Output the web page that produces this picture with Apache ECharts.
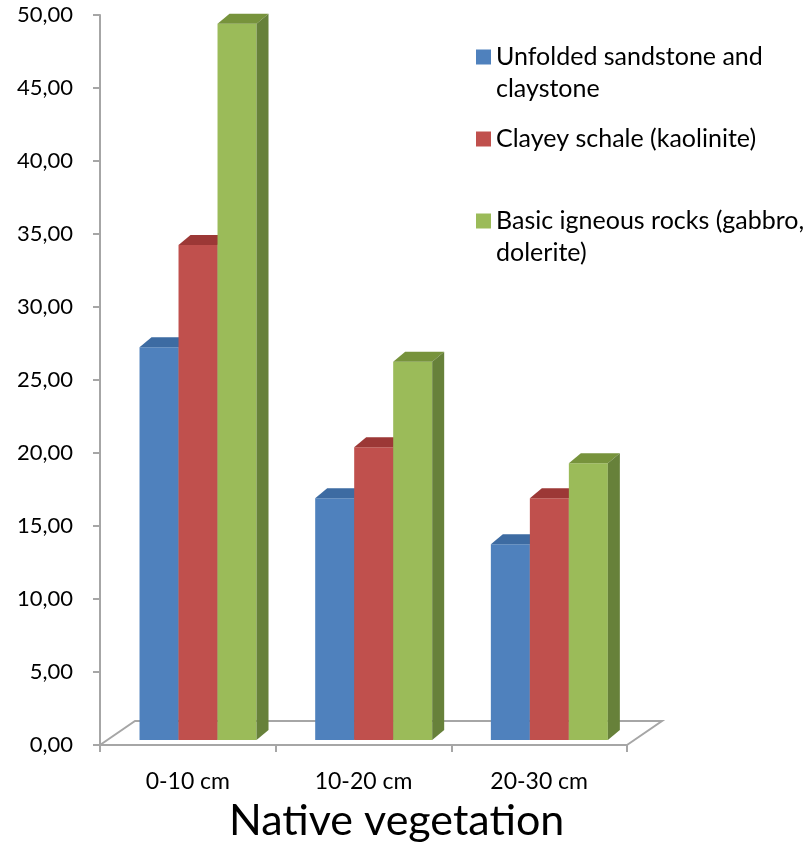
<!DOCTYPE html>
<html>
<head>
<meta charset="utf-8">
<script src="https://cdn.jsdelivr.net/npm/echarts@6/dist/echarts.min.js"></script>
<style>
  html, body { margin: 0; padding: 0; background: #fff; }
  #chart { width: 806px; height: 848px; }
</style>
</head>
<body>
<div id="chart"></div>
<script>
// categories and values
const categories = ['0-10 cm', '10-20 cm', '20-30 cm'];
const seriesNames = [
    'Unfolded sandstone and claystone',
    'Clayey schale (kaolinite)',
    'Basic igneous rocks (gabbro, dolerite)'
];
// leading blank line keeps the icon level with the first text line
const legendLabels = [
    ' \nUnfolded sandstone and\nclaystone',
    'Clayey schale (kaolinite)',
    ' \nBasic igneous rocks (gabbro,\ndolerite)'
];
const unfolded = [26.9, 16.55, 13.4];
const clayey = [33.9, 20.05, 16.55];
const basicIgneous = [49.05, 25.9, 18.95];
const yMin = 0, yMax = 50, yStep = 5;

const allValues = [unfolded, clayey, basicIgneous];
const frontColors = ['#4F81BD', '#C0504D', '#9BBB59'];
const topColors = ['#3d6ba2', '#9c3836', '#77933c'];
const sideColors = ['#385d8a', '#8c3836', '#67813a'];

const FONT = 'Lato, "Open Sans", sans-serif';
const DX = 12, DY = 10, LIFT = 5;

const chart = echarts.init(document.getElementById('chart'));

// one custom series per rock type: front face + top + right side
function makeBarRenderer(k) {
    return function (params, api) {
        const idx = api.value(0);
        const val = api.value(1);
        const base = api.coord([idx, 0]);
        const top = api.coord([idx, val]);
        const band = api.size([1, 0])[0];
        const bw = band * 0.222;
        const x0 = base[0] - band / 2 + band * 0.225 + k * bw;
        const x1 = x0 + bw;
        const yb = base[1] - LIFT;
        const yt = top[1] - LIFT;
        return {
            type: 'group',
            children: [
                { type: 'rect', shape: { x: x0, y: yt, width: bw, height: yb - yt }, style: { fill: frontColors[k] } },
                { type: 'polygon', shape: { points: [[x0, yt], [x0 + DX, yt - DY], [x1 + DX, yt - DY], [x1, yt]] }, style: { fill: topColors[k] } },
                { type: 'polygon', shape: { points: [[x1, yt], [x1 + DX, yt - DY], [x1 + DX, yb - DY], [x1, yb]] }, style: { fill: sideColors[k] } }
            ]
        };
    };
}

// floor outline behind the bars
function renderFloor(params, api) {
    const band = api.size([1, 0])[0];
    const a = api.coord([0, 0]);
    const b = api.coord([categories.length - 1, 0]);
    const xl = a[0] - band / 2, xr = b[0] + band / 2, y = a[1];
    return {
        type: 'polyline',
        shape: { points: [[xl, y], [xl + 35, y - 24], [xr + 35, y - 24], [xr, y]] },
        style: { stroke: '#a6a6a6', lineWidth: 2, fill: null }
    };
}

const series = [{
    type: 'custom',
    name: 'floor',
    renderItem: renderFloor,
    data: [[0, 0]],
    z: 1,
    silent: true
}];
seriesNames.forEach((name, k) => {
    series.push({
        type: 'custom',
        name: name,
        renderItem: makeBarRenderer(k),
        itemStyle: { color: frontColors[k] },
        encode: { x: 0, y: 1 },
        data: categories.map((c, i) => [i, allValues[k][i]]),
        z: 2
    });
});

function legendFor(k, top) {
    return {
        data: [seriesNames[k]],
        orient: 'vertical',
        left: 476,
        top: top,
        padding: 0,
        icon: 'rect',
        itemWidth: 15,
        itemHeight: 15,
        formatter: () => legendLabels[k],
        textStyle: { fontFamily: FONT, fontSize: 25, color: '#000', lineHeight: 32 }
    };
}

const option = {
    backgroundColor: '#fff',
    animation: false,
    title: {
        text: 'Native vegetation',
        left: 224,
        top: 795,
        textStyle: { fontFamily: FONT, fontSize: 43, fontWeight: 'normal', color: '#000' }
    },
    legend: [legendFor(0, 9), legendFor(1, 123), legendFor(2, 173)],
    grid: { left: 100, right: 179, top: 15, bottom: 103 },
    xAxis: {
        type: 'category',
        data: categories,
        axisLine: { lineStyle: { color: '#a6a6a6', width: 2 } },
        axisTick: { show: true, length: 7, lineStyle: { color: '#a6a6a6', width: 2 } },
        axisLabel: { margin: 25, fontFamily: FONT, fontSize: 23, color: '#000' },
        splitLine: { show: false }
    },
    yAxis: {
        type: 'value',
        min: yMin,
        max: yMax,
        interval: yStep,
        axisLine: { show: true, lineStyle: { color: '#a6a6a6', width: 2 } },
        axisTick: { show: true, length: 7, lineStyle: { color: '#a6a6a6', width: 2 } },
        axisLabel: {
            margin: 27, fontFamily: FONT, fontSize: 22, color: '#000',
            formatter: v => v.toFixed(2).replace('.', ',')
        },
        splitLine: { show: false }
    },
    series: series
};

chart.setOption(option);
</script>
</body>
</html>
